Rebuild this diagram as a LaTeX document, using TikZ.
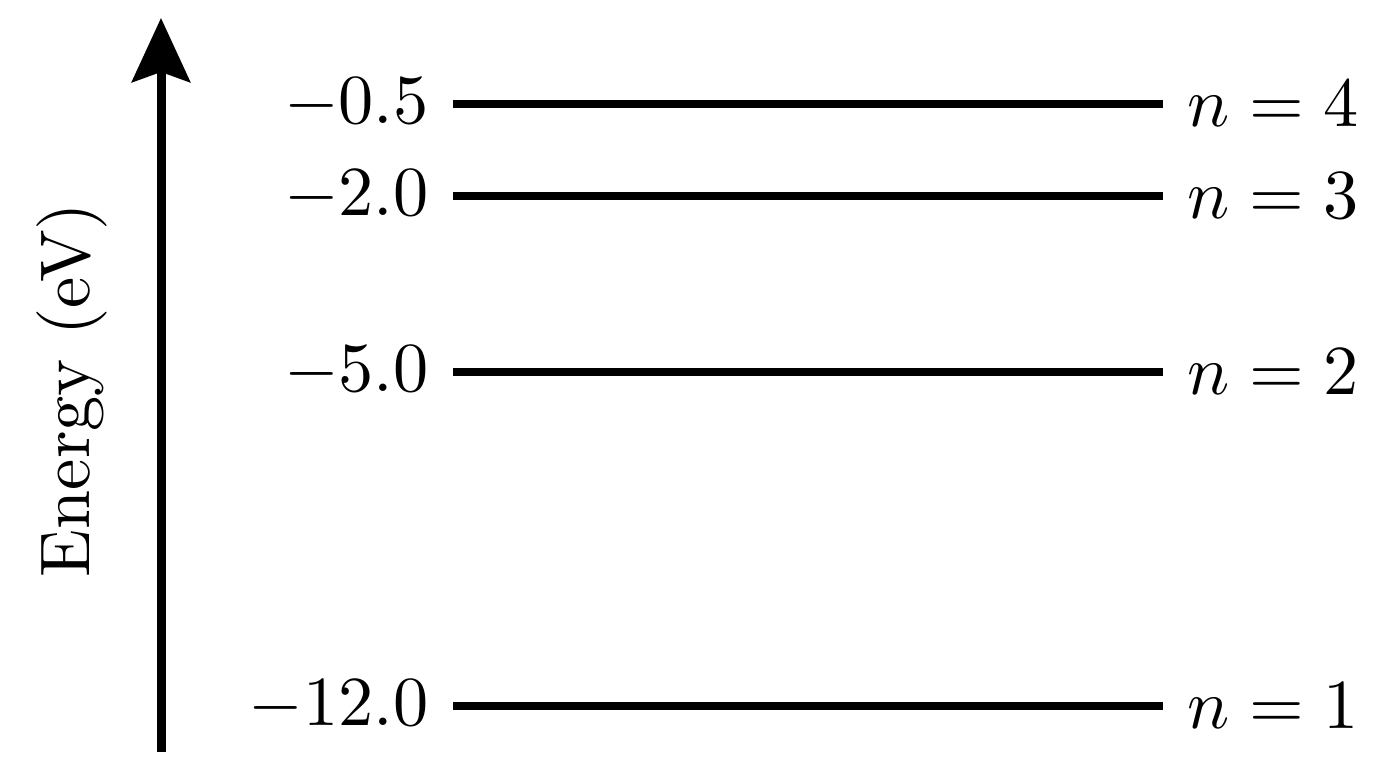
\documentclass[tikz,border=0pt]{standalone}
\usetikzlibrary{arrows.meta}
\tikzset{
  level/.style={line width=0.08cm},
  val/.style={anchor=east,inner sep=0pt,scale=2},
  lab/.style={anchor=west,inner sep=0pt,scale=2}
}
\begin{document}
\begin{tikzpicture}
\useasboundingbox (0,0) rectangle (13.76,7.68);
\coordinate (bot) at (1.61,0.16);
\coordinate (top) at (1.61,7.50);
\draw[line width=0.09cm,-{Stealth[length=0.64cm,width=0.58cm,inset=0.1cm]}] (bot) -- (top);
\node[rotate=90,scale=2] (axis) at (0.72,3.78) {Energy (eV)};
\coordinate (a4) at (4.53,6.64);
\coordinate (b4) at (11.63,6.64);
\coordinate (a3) at (4.53,5.72);
\coordinate (b3) at (11.63,5.72);
\coordinate (a2) at (4.53,3.96);
\coordinate (b2) at (11.63,3.96);
\coordinate (a1) at (4.53,0.62);
\coordinate (b1) at (11.63,0.62);
\draw[level] (a4) -- (b4);
\draw[level] (a3) -- (b3);
\draw[level] (a2) -- (b2);
\draw[level] (a1) -- (b1);
\node[val] (e4) at (4.30,6.64) {$-0.5$};
\node[val] (e3) at (4.30,5.72) {$-2.0$};
\node[val] (e2) at (4.30,3.96) {$-5.0$};
\node[val] (e1) at (4.30,0.62) {$-12.0$};
\node[lab] (n4) at (11.86,6.64) {$n=4$};
\node[lab] (n3) at (11.86,5.72) {$n=3$};
\node[lab] (n2) at (11.86,3.96) {$n=2$};
\node[lab] (n1) at (11.86,0.62) {$n=1$};
\end{tikzpicture}
\end{document}
